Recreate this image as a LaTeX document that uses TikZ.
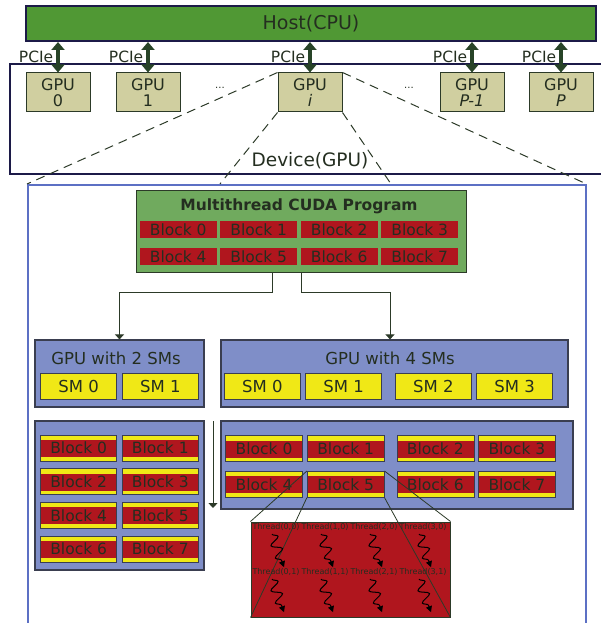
\documentclass[tikz,border=0pt]{standalone}
\usepackage{fontspec}
\setmainfont{DejaVu Sans}
\usetikzlibrary{positioning,matrix,arrows.meta,decorations.pathmorphing}

\definecolor{hostgreen}{RGB}{80,152,52}
\definecolor{navyline}{RGB}{28,26,72}
\definecolor{gpukhaki}{RGB}{208,207,160}
\definecolor{darkline}{RGB}{44,58,40}
\definecolor{pciegreen}{RGB}{40,68,40}
\definecolor{proggreen}{RGB}{112,170,94}
\definecolor{blockred}{RGB}{176,22,30}
\definecolor{smblue}{RGB}{127,142,200}
\definecolor{smyellow}{RGB}{240,232,22}
\definecolor{outerblue}{RGB}{92,112,196}
\definecolor{textdark}{RGB}{36,46,32}
\definecolor{boxedge}{RGB}{58,62,80}

\begin{document}
\begin{tikzpicture}[x=1pt,y=-1pt,
	host/.style={draw=navyline,line width=2pt,fill=hostgreen,text=textdark,
		minimum width=570pt,minimum height=35pt,font=\fontsize{19}{22}\selectfont},
	devbox/.style={draw=navyline,line width=2.5pt},
	gpubox/.style={draw=darkline,line width=1pt,fill=gpukhaki,text=textdark,align=center,
		minimum width=64pt,minimum height=39pt,inner sep=0pt,font=\fontsize{16}{16}\selectfont},
	pcie/.style={{Triangle[length=8pt,width=13pt]}-{Triangle[length=8pt,width=13pt]},
		line width=3.5pt,draw=pciegreen},
	pcielbl/.style={text=textdark,inner sep=1pt,font=\fontsize{15.5}{16}\selectfont},
	dots/.style={text=textdark,font=\fontsize{10}{10}\selectfont},
	devlbl/.style={text=textdark,font=\fontsize{18.5}{19}\selectfont},
	zoomline/.style={draw=darkline,dash pattern=on 9pt off 6pt,line width=1pt},
	outerbox/.style={draw=outerblue,line width=1.5pt},
	prog/.style={draw=darkline,line width=1pt,fill=proggreen,minimum width=330pt,minimum height=82pt},
	progtitle/.style={text=textdark,font=\bfseries\fontsize{15.5}{16}\selectfont},
	block/.style={fill=blockred,text=textdark,minimum width=77pt,minimum height=17pt,
		inner sep=0pt,font=\fontsize{15.5}{16}\selectfont},
	sblock/.style={block,draw=boxedge,line width=0.6pt,fill=smyellow,minimum height=26pt,
		path picture={\fill[blockred] ([yshift=-5pt]path picture bounding box.north west)
			rectangle ([yshift=4pt]path picture bounding box.south east);}},
	smgpu/.style={draw=boxedge,line width=1.2pt,fill=smblue,minimum height=67pt},
	smtitle/.style={text=textdark,font=\fontsize{16.5}{17}\selectfont},
	smcore/.style={draw=boxedge,line width=0.8pt,fill=smyellow,text=textdark,minimum width=76pt,
		minimum height=26pt,inner sep=0pt,font=\fontsize{16.5}{17}\selectfont},
	blkbox/.style={draw=boxedge,line width=1.2pt,fill=smblue},
	flow/.style={draw=darkline,line width=1pt,-{Triangle[length=5pt,width=9pt]}},
	thrbox/.style={draw=darkline,line width=1pt,fill=blockred,minimum width=199pt,minimum height=95pt},
	zoomthin/.style={draw=darkline,line width=0.8pt},
	thrlbl/.style={text=textdark,text height=6pt,text depth=2pt,inner sep=0pt,minimum width=49pt,
		font=\fontsize{8}{8}\selectfont},
	wave/.style={draw=black,line width=1pt,decorate,
		decoration={snake,amplitude=5pt,segment length=13pt,post length=5pt},
		-{Triangle[length=6pt,width=6pt]}}]
\useasboundingbox (0,0) rectangle (600,623);

% host and devices
\node[host] (host) at (311,23.5) {Host(CPU)};
\node[devbox,minimum width=600pt,minimum height=110pt] (device) at (310,119) {};
\node[devlbl] (devlabel) at (310,161) {Device(GPU)};
\node[gpubox] (gpu0) at (58,92.5) {GPU\\0};
\node[gpubox] (gpu1) at (148,92.5) {GPU\\1};
\node[gpubox] (gpui) at (310,92.5) {GPU\\\textit{i}};
\node[gpubox] (gpup1) at (472,92.5) {GPU\\\textit{P-1}};
\node[gpubox] (gpup) at (561,92.5) {GPU\\\textit{P}};
\node[dots] (dotsl) at (220,88) {...};
\node[dots] (dotsr) at (409,88) {...};
\path
	(gpu0.north |- host.south) edge[pcie] node[pcielbl,left=2pt] {PCIe} (gpu0.north)
	(gpu1.north |- host.south) edge[pcie] node[pcielbl,left=2pt] {PCIe} (gpu1.north)
	(gpui.north |- host.south) edge[pcie] node[pcielbl,left=2pt] {PCIe} (gpui.north)
	(gpup1.north |- host.south) edge[pcie] node[pcielbl,left=2pt] {PCIe} (gpup1.north)
	(gpup.north |- host.south) edge[pcie] node[pcielbl,left=2pt] {PCIe} (gpup.north);

% zoom into GPU i
\node[outerbox,anchor=north west,minimum width=558pt,minimum height=460pt] (detail) at (27,184) {};
\coordinate (zoomleft) at (220,184);
\coordinate (zoomright) at (391,184);
\draw[zoomline] (gpui.north west) -- (detail.north west)
	(gpui.north east) -- (detail.north east)
	(gpui.south west) -- (zoomleft)
	(gpui.south east) -- (zoomright);

% the program
\node[prog] (prog) at (301,231) {};
\node[progtitle] (progtitle) at (299,206) {Multithread CUDA Program};
\matrix (progblk) [matrix of nodes,nodes={block},column sep=3.5pt,row sep=10pt] at (299,243)
{
	Block 0 & Block 1 & Block 2 & Block 3\\
	Block 4 & Block 5 & Block 6 & Block 7\\};

% two GPUs
\node[smgpu,minimum width=169pt] (gpu2) at (119.5,373.5) {};
\node[smgpu,minimum width=347pt] (gpu4) at (394.5,373.5) {};
\node[smtitle] (gpu2title) at (116,358) {GPU with 2 SMs};
\node[smtitle] (gpu4title) at (390,358) {GPU with 4 SMs};
\matrix (sm2) [matrix of nodes,nodes={smcore},column sep=5pt] at (119.5,386)
{
	SM 0 & SM 1\\};
\matrix (sm4) [matrix of nodes,nodes={smcore},column sep=4.5pt] at (388.5,386)
{
	SM 0 & SM 1 &[8.5pt] SM 2 & SM 3\\};
\draw[flow] ([xshift=-29pt]prog.south) -- ++(0,20) -| (gpu2.north);
\draw[flow] (prog.south) -- ++(0,20) -| ([xshift=-4.5pt]gpu4.north);

% scheduled blocks
\node[blkbox,minimum width=169pt,minimum height=149pt] (lbox) at (119.5,495.5) {};
\node[blkbox,minimum width=352pt,minimum height=88pt] (rbox) at (397,465) {};
\matrix (lblk) [matrix of nodes,nodes={sblock,minimum width=76pt},column sep=5pt,row sep=7pt] at (119.5,498.5)
{
	Block 0 & Block 1\\
	Block 2 & Block 3\\
	Block 4 & Block 5\\
	Block 6 & Block 7\\};
\matrix (rblk) [matrix of nodes,nodes={sblock},column sep=4pt,row sep=9pt] at (390.5,466.5)
{
	Block 0 & Block 1 &[8pt] Block 2 & Block 3\\
	Block 4 & Block 5 &[8pt] Block 6 & Block 7\\};
\coordinate (flowtop) at (213,421);
\coordinate (flowbot) at (213,508);
\draw[flow] (flowtop) -- (flowbot);

% threads of block 5
\node[thrbox] (thrbox) at (350.5,569.5) {};
\draw[zoomthin] (rblk-2-2.north west) -- (thrbox.north west)
	(rblk-2-2.north east) -- (thrbox.north east)
	(rblk-2-2.south west) -- (thrbox.south west)
	(rblk-2-2.south east) -- (thrbox.south east);
\matrix (thr) [matrix of nodes,nodes={thrlbl},column sep=0pt,row sep=37pt] at (349.5,549.5)
{
	Thread(0,0) & Thread(1,0) & Thread(2,0) & Thread(3,0)\\
	Thread(0,1) & Thread(1,1) & Thread(2,1) & Thread(3,1)\\};
\draw[wave] ([shift={(-4,3)}]thr-1-1.south) -- ([shift={(8,36)}]thr-1-1.south);
\draw[wave] ([shift={(-4,3)}]thr-1-2.south) -- ([shift={(8,36)}]thr-1-2.south);
\draw[wave] ([shift={(-4,3)}]thr-1-3.south) -- ([shift={(8,36)}]thr-1-3.south);
\draw[wave] ([shift={(-4,3)}]thr-1-4.south) -- ([shift={(8,36)}]thr-1-4.south);
\draw[wave] ([shift={(-4,3)}]thr-2-1.south) -- ([shift={(8,36)}]thr-2-1.south);
\draw[wave] ([shift={(-4,3)}]thr-2-2.south) -- ([shift={(8,36)}]thr-2-2.south);
\draw[wave] ([shift={(-4,3)}]thr-2-3.south) -- ([shift={(8,36)}]thr-2-3.south);
\draw[wave] ([shift={(-4,3)}]thr-2-4.south) -- ([shift={(8,36)}]thr-2-4.south);
\end{tikzpicture}
\end{document}
